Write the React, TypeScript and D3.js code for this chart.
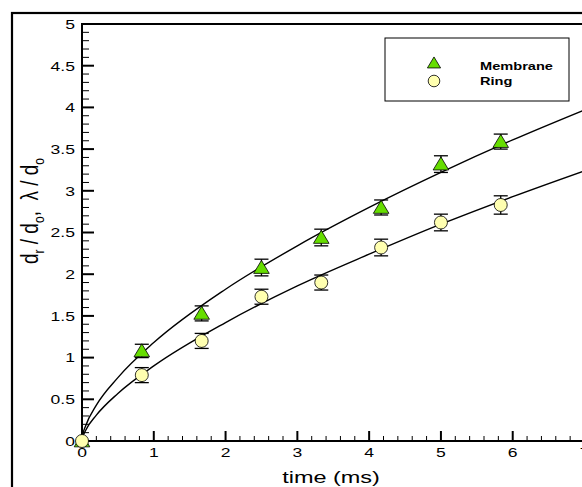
import React from "react";
import * as d3 from "d3";

const timeMs = [0, 0.833, 1.667, 2.5, 3.333, 4.167, 5.0, 5.833];
const membrane = [0, 1.08, 1.53, 2.08, 2.44, 2.8, 3.32, 3.59];
const membraneErr = [0, 0.08, 0.09, 0.1, 0.1, 0.09, 0.1, 0.09];
const ring = [0, 0.79, 1.2, 1.73, 1.9, 2.32, 2.62, 2.83];
const ringErr = [0, 0.09, 0.09, 0.09, 0.09, 0.1, 0.1, 0.11];

const fitX = [0, 0.01, 0.05, 0.2, 0.5, 1, 2, 3, 4, 5, 6, 7];
const membraneFit = [0, 0.07, 0.18, 0.43, 0.76, 1.18, 1.82, 2.34, 2.8, 3.22, 3.61, 3.97];
const ringFit = [0, 0.044, 0.126, 0.31, 0.57, 0.9, 1.42, 1.86, 2.24, 2.6, 2.93, 3.24];

const xTicks = [0, 1, 2, 3, 4, 5, 6, 7];
const yTicks = [0, 0.5, 1, 1.5, 2, 2.5, 3, 3.5, 4, 4.5, 5];
const legendLabels = ["Membrane", "Ring"];

const W = 582;
const H = 487;

export default function App() {
  const x = d3.scaleLinear().domain([0, 7]).range([82, 584.5]);
  const y = d3.scaleLinear().domain([0, 5]).range([441, 24]);
  const line = d3
    .line<number>()
    .x((_, i) => x(fitX[i]))
    .y((v) => y(v))
    .curve(d3.curveMonotoneX);

  const xMinor = d3.range(0, 7.001, 0.2).filter((v) => Math.abs(v - Math.round(v)) > 1e-6);
  const yMinor = d3.range(0, 5.001, 0.1).filter((v) => Math.abs(v * 2 - Math.round(v * 2)) > 1e-6);

  const tri = (cx: number, cy: number, s: number) =>
    `M${cx},${cy - s * 0.55} L${cx + s * 0.6},${cy + s * 0.45} L${cx - s * 0.6},${cy + s * 0.45} Z`;

  const font = "Arial, 'Liberation Sans', sans-serif";
  const triFill = "#66dd00";
  const circFill = "#ffffb0";
  const sx = 1.3;

  return (
    <svg
      width={W}
      height={H}
      style={{ position: "fixed", left: 0, top: 0, background: "#fff" }}
      fontFamily={font}
    >
      <rect x={0} y={0} width={W} height={H} fill="#fff" />
      {/* outer frame */}
      <rect x={12} y={13} width={W + 20} height={H + 20} fill="none" stroke="#000" strokeWidth={2.2} />
      {/* plot box */}
      <rect x={82} y={24} width={502.5} height={417} fill="none" stroke="#000" strokeWidth={2} />

      {/* y ticks */}
      {yTicks.map((t) => (
        <g key={"yt" + t}>
          <line x1={82} x2={94} y1={y(t)} y2={y(t)} stroke="#000" strokeWidth={2} />
          <text
            transform={`translate(75,${y(t) + 4.8}) scale(${sx},1)`}
            fontSize={13.5}
            textAnchor="end"
            fill="#000"
          >
            {t}
          </text>
        </g>
      ))}
      {yMinor.map((t) => (
        <line key={"ym" + t} x1={82} x2={89} y1={y(t)} y2={y(t)} stroke="#000" strokeWidth={1} />
      ))}
      {/* x ticks */}
      {xTicks.map((t) => (
        <g key={"xt" + t}>
          <line x1={x(t)} x2={x(t)} y1={441} y2={431} stroke="#000" strokeWidth={2} />
          <text
            transform={`translate(${x(t)},457) scale(${sx},1)`}
            fontSize={13.5}
            textAnchor="middle"
            fill="#000"
          >
            {t}
          </text>
        </g>
      ))}
      {xMinor.map((t) => (
        <line key={"xm" + t} x1={x(t)} x2={x(t)} y1={441} y2={436} stroke="#000" strokeWidth={1} />
      ))}

      {/* fit curves */}
      <path d={line(membraneFit) || ""} fill="none" stroke="#000" strokeWidth={1.4} />
      <path d={line(ringFit) || ""} fill="none" stroke="#000" strokeWidth={1.4} />

      {/* error bars */}
      {timeMs.map((t, i) =>
        i === 0 ? null : (
          <g key={"eb" + i} stroke="#000" strokeWidth={1.3}>
            <line x1={x(t)} x2={x(t)} y1={y(membrane[i] - membraneErr[i])} y2={y(membrane[i] + membraneErr[i])} />
            <line x1={x(t) - 7} x2={x(t) + 7} y1={y(membrane[i] - membraneErr[i])} y2={y(membrane[i] - membraneErr[i])} />
            <line x1={x(t) - 7} x2={x(t) + 7} y1={y(membrane[i] + membraneErr[i])} y2={y(membrane[i] + membraneErr[i])} />
            <line x1={x(t)} x2={x(t)} y1={y(ring[i] - ringErr[i])} y2={y(ring[i] + ringErr[i])} />
            <line x1={x(t) - 7} x2={x(t) + 7} y1={y(ring[i] - ringErr[i])} y2={y(ring[i] - ringErr[i])} />
            <line x1={x(t) - 7} x2={x(t) + 7} y1={y(ring[i] + ringErr[i])} y2={y(ring[i] + ringErr[i])} />
          </g>
        )
      )}
      {/* markers */}
      {timeMs.map((t, i) => (
        <path key={"tr" + i} d={tri(x(t), y(membrane[i]), 13)} fill={triFill} stroke="#000" strokeWidth={0.8} />
      ))}
      {timeMs.map((t, i) => (
        <circle key={"ci" + i} cx={x(t)} cy={y(ring[i])} r={6.5} fill={circFill} stroke="#000" strokeWidth={0.8} />
      ))}

      {/* legend */}
      <rect x={385} y={38} width={184} height={63} fill="#fff" stroke="#000" strokeWidth={1} />
      <path d={tri(434, 63, 11)} fill={triFill} stroke="#000" strokeWidth={0.8} />
      <circle cx={434} cy={81} r={5.8} fill={circFill} stroke="#000" strokeWidth={0.8} />
      <text transform={`translate(480,70) scale(1.27,1)`} fontSize={11.5} fontWeight="bold" fill="#000">
        {legendLabels[0]}
      </text>
      <text transform={`translate(480,85) scale(1.27,1)`} fontSize={11.5} fontWeight="bold" fill="#000">
        {legendLabels[1]}
      </text>

      {/* axis titles */}
      <text transform="translate(331,483) scale(1.38,1)" fontSize={17} textAnchor="middle" fill="#000">
        time (ms)
      </text>
      <text transform="translate(38,211) scale(1.25,1) rotate(-90)" fontSize={19} textAnchor="middle" fill="#000">
        <tspan>d</tspan>
        <tspan fontSize={12} dy={4.5}>r</tspan>
        <tspan dy={-4.5}>{"\u00a0/\u00a0d"}</tspan>
        <tspan fontSize={12} dy={4.5}>o</tspan>
        <tspan dy={-4.5}>{",\u00a0\u00a0λ\u00a0/\u00a0d"}</tspan>
        <tspan fontSize={12} dy={4.5}>o</tspan>
      </text>
    </svg>
  );
}
